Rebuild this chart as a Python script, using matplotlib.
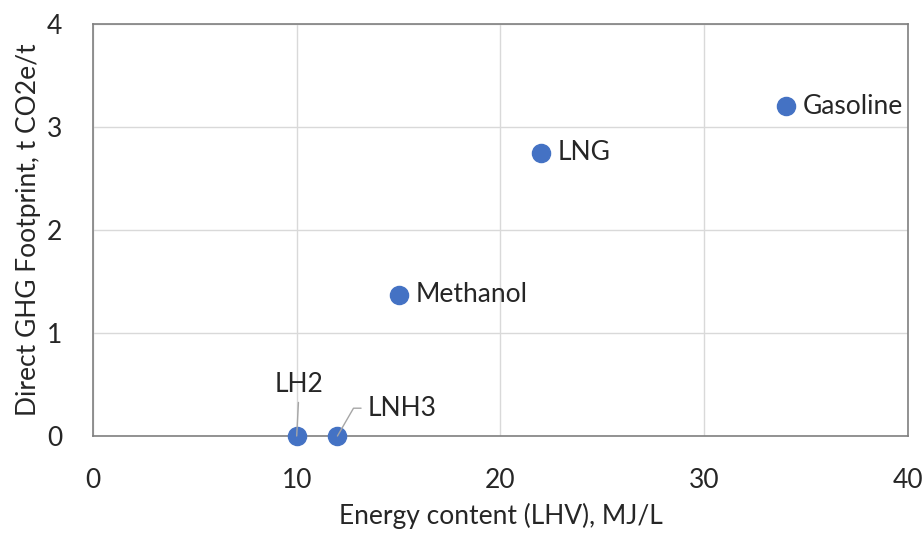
import matplotlib
matplotlib.use("Agg")
import matplotlib.pyplot as plt

plt.rcParams['font.family'] = ['Lato', 'DejaVu Sans']

fuels = ["LH2", "LNH3", "Methanol", "LNG", "Gasoline"]
energy = [10, 12, 15, 22, 34]
ghg = [0, 0, 1.37, 2.75, 3.2]

fig = plt.figure(figsize=(9.24, 5.34), dpi=100)
ax = fig.add_axes([0.1006, 0.1835, 0.882, 0.7715])

ax.grid(True, color="#d9d9d9", linewidth=1)
ax.set_axisbelow(True)
ax.scatter(energy, ghg, s=170, color="#4472C4", zorder=3, clip_on=False)

ax.set_xlim(0, 40)
ax.set_ylim(0, 4)
ax.set_xticks([0, 10, 20, 30, 40])
ax.set_yticks([0, 1, 2, 3, 4])
for s in ax.spines.values():
    s.set_color("#7f7f7f")
    s.set_linewidth(1.2)
fs = 19
ax.tick_params(length=0, labelsize=fs, colors="#262626")
ax.tick_params(axis="x", pad=23)
ax.tick_params(axis="y", pad=22)
ax.set_xlabel("Energy content (LHV), MJ/L", fontsize=fs, color="#262626", labelpad=7)
ax.set_ylabel("Direct GHG Footprint, t CO2e/t", fontsize=fs, color="#262626", labelpad=4)

# labels to the right of points
for name, x, y in zip(fuels[2:], energy[2:], ghg[2:]):
    ax.annotate(name, (x, y), xytext=(12, 0), textcoords="offset points",
                va="center", ha="left", fontsize=fs, color="#262626")

# leader-line labels for the two zero points
ax.annotate(fuels[0], (energy[0], ghg[0]), xytext=(energy[0] + 0.1, 0.38), textcoords="data",
            ha="center", va="bottom", fontsize=fs, color="#262626",
            arrowprops=dict(arrowstyle="-", color="#a6a6a6", lw=1,
                            shrinkA=2, shrinkB=0, relpos=(0.5, 0)),
            annotation_clip=False)
ax.annotate(fuels[1], (energy[1], ghg[1]), xytext=(energy[1] + 1.5, 0.27), textcoords="data",
            ha="left", va="center", fontsize=fs, color="#262626",
            arrowprops=dict(arrowstyle="-", color="#a6a6a6", lw=1,
                            connectionstyle="angle,angleA=0,angleB=60,rad=0",
                            shrinkA=3, shrinkB=0, relpos=(0, 0.5)),
            annotation_clip=False)

fig.savefig("out.png", dpi=100)
